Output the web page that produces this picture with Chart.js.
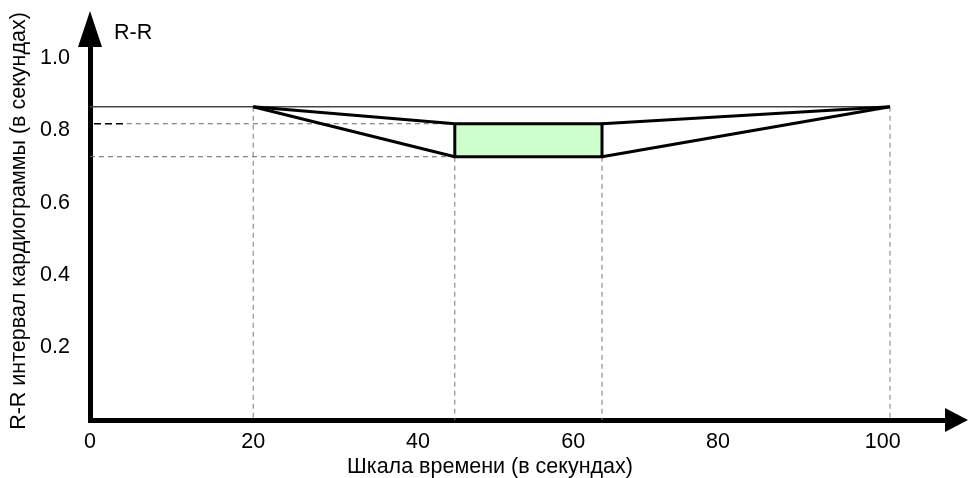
<!DOCTYPE html>
<html lang="ru">
<head>
<meta charset="utf-8">
<title>R-R интервал</title>
<script src="https://cdn.jsdelivr.net/npm/chart.js@4.4.1/dist/chart.umd.min.js"></script>
<style>
  html, body { margin: 0; padding: 0; background: #fff; }
  #wrap { width: 970px; height: 478px; }
</style>
</head>
<body>
<div id="wrap"><canvas id="grafico" width="970" height="478"></canvas></div>
<script>
// подписи осей
const xTickPos = [0, 20.4, 41, 60.4, 78.5, 99.1];
const xTickLabels = ["0", "20", "40", "60", "80", "100"];
const yTicks = [0.2, 0.4, 0.6, 0.8, 1.0];

// время (с)
const tStart = 20.4;
const tBoxFrom = 45.6;
const tBoxTo = 64.0;
const tEnd = 100;

// R-R (с)
const rrBase = 0.865;
const rrHigh = 0.818;
const rrLow = 0.727;

const FONT = "Arial, 'Liberation Sans', sans-serif";
const FSIZE = 21.5;

function linha(pts, cor, largura, tracejado, extra) {
  return Object.assign({
    data: pts.map(p => ({ x: p[0], y: p[1] })),
    borderColor: cor,
    borderWidth: largura,
    borderDash: tracejado || [],
    pointRadius: 0,
    showLine: true,
    fill: false,
    tension: 0
  }, extra || {});
}

const datasets = [
  // caixa verde
  linha([[tBoxFrom, rrHigh], [tBoxTo, rrHigh], [tBoxTo, rrLow], [tBoxFrom, rrLow], [tBoxFrom, rrHigh]],
    "#000", 3, null, { fill: "shape", backgroundColor: "#ccffcc", order: 1 }),
  // linhas grossas
  linha([[tStart, rrBase], [tBoxFrom, rrHigh]], "#000", 3, null, { order: 0 }),
  linha([[tStart, rrBase], [tBoxFrom, rrLow]], "#000", 3, null, { order: 0 }),
  linha([[tBoxTo, rrHigh], [tEnd, rrBase]], "#000", 3, null, { order: 0 }),
  linha([[tBoxTo, rrLow], [tEnd, rrBase]], "#000", 3, null, { order: 0 }),
  // linha de base
  linha([[0, rrBase], [tEnd, rrBase]], "#444", 1.5, null, { order: 2 }),
  // tracejadas horizontais
  linha([[0.5, rrHigh], [4.6, rrHigh]], "#000", 1.5, [7, 4], { order: 2 }),
  linha([[4.6, rrHigh], [tBoxFrom, rrHigh]], "#666", 1, [5, 4], { order: 3 }),
  linha([[0, rrLow], [tBoxFrom, rrLow]], "#666", 1, [5, 4], { order: 3 }),
  // tracejadas verticais
  linha([[tStart, rrBase], [tStart, 0]], "#777", 1, [5, 4], { order: 3 }),
  linha([[tBoxFrom, rrLow], [tBoxFrom, 0]], "#777", 1, [5, 4], { order: 3 }),
  linha([[tBoxTo, rrLow], [tBoxTo, 0]], "#777", 1, [5, 4], { order: 3 }),
  linha([[tEnd, rrBase], [tEnd, 0]], "#aaa", 1.5, [5, 4], { order: 3 })
];

// setas e textos extras
const extras = {
  id: "extras",
  afterDraw(chart) {
    const { ctx, scales } = chart;
    const x0 = scales.x.getPixelForValue(0);
    const y0 = scales.y.getPixelForValue(0);
    ctx.save();
    ctx.fillStyle = "#000";
    // seta Y
    ctx.beginPath();
    ctx.moveTo(x0, 11);
    ctx.lineTo(x0 + 12, 47);
    ctx.lineTo(x0 - 12, 47);
    ctx.closePath();
    ctx.fill();
    // seta X
    ctx.beginPath();
    ctx.moveTo(968, y0);
    ctx.lineTo(945, y0 - 12);
    ctx.lineTo(945, y0 + 12);
    ctx.closePath();
    ctx.fill();

    ctx.font = FSIZE + "px " + FONT;
    ctx.textBaseline = "middle";
    ctx.textAlign = "left";
    ctx.fillText("R-R", x0 + 24, 33);
    ctx.textAlign = "center";
    ctx.fillText("Шкала времени (в секундах)", 490, 467);
    ctx.restore();
  }
};

new Chart(document.getElementById("grafico"), {
  type: "scatter",
  data: { datasets },
  plugins: [extras],
  options: {
    responsive: false,
    animation: false,
    layout: { padding: { top: 22, right: 10, bottom: 0, left: 0 } },
    plugins: {
      legend: { display: false },
      tooltip: { enabled: false }
    },
    scales: {
      x: {
        type: "linear",
        min: 0,
        max: 108.75,
        afterFit(scale) {
          scale.height = 58;
          scale.paddingLeft = 0;
          scale.paddingRight = 0;
        },
        afterBuildTicks(scale) { scale.ticks = xTickPos.map(v => ({ value: v })); },
        grid: { display: false, drawTicks: false, tickLength: 0 },
        border: { display: true, color: "#000", width: 5 },
        ticks: {
          autoSkip: false,
          maxRotation: 0,
          padding: 9,
          color: "#000",
          font: { family: FONT, size: FSIZE },
          callback: (v, i) => xTickLabels[i]
        }
      },
      y: {
        type: "linear",
        min: 0,
        max: 1.099,
        afterFit(scale) {
          scale.width = 90;
          scale.paddingTop = 0;
          scale.paddingBottom = 0;
        },
        afterBuildTicks(scale) { scale.ticks = yTicks.map(v => ({ value: v })); },
        grid: { display: false, drawTicks: false, tickLength: 0 },
        border: { display: true, color: "#000", width: 5 },
        ticks: {
          padding: 20,
          color: "#000",
          font: { family: FONT, size: FSIZE },
          callback: v => v.toFixed(1)
        },
        title: {
          display: true,
          text: "R-R интервал кардиограммы (в секундах)",
          color: "#000",
          font: { family: FONT, size: FSIZE },
          padding: { top: 6, bottom: 0 }
        }
      }
    }
  }
});
</script>
</body>
</html>
